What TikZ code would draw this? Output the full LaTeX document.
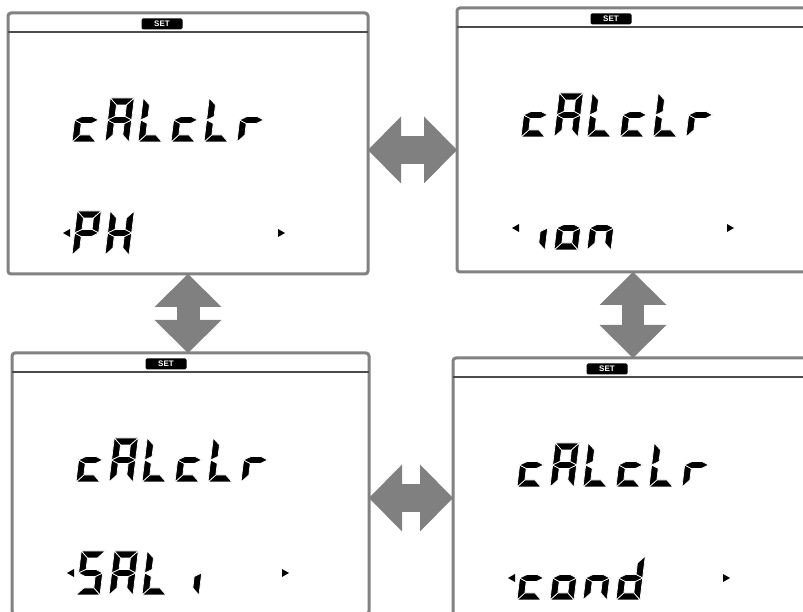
\documentclass[tikz,border=0pt]{standalone}
\usepackage{fontspec}
\newfontfamily\badgefont{Liberation Sans}
\usetikzlibrary{arrows.meta,positioning}

\definecolor{arrowgray}{RGB}{128,128,128}
\definecolor{framegray}{RGB}{130,130,130}

% seven-segment glyphs (segments a..g)
\newcommand{\glyphc}{d,e,g}
\newcommand{\glyphA}{a,b,c,e,f,g}
\newcommand{\glyphL}{d,e,f}
\newcommand{\glyphr}{e,g}
\newcommand{\glyphP}{a,b,e,f,g}
\newcommand{\glyphH}{b,c,e,f,g}
\newcommand{\glyphi}{c}
\newcommand{\glypho}{c,d,e,g}
\newcommand{\glyphn}{c,e,g}
\newcommand{\glyphS}{a,c,d,f,g}
\newcommand{\glyphd}{b,c,d,e,g}

\newcommand{\lcdseg}[1]{%
  \if a#1\path[lcdbar] (0,44) -- (24,44) -- (17,37) -- (7,37) -- cycle;\fi
  \if b#1\path[lcdbar] (24,44) -- (24,22) -- (17,25.5) -- (17,37) -- cycle;\fi
  \if c#1\path[lcdbar] (24,22) -- (24,0) -- (17,7) -- (17,18.5) -- cycle;\fi
  \if d#1\path[lcdbar] (0,0) -- (24,0) -- (17,7) -- (7,7) -- cycle;\fi
  \if e#1\path[lcdbar] (0,0) -- (0,22) -- (7,18.5) -- (7,7) -- cycle;\fi
  \if f#1\path[lcdbar] (0,22) -- (0,44) -- (7,37) -- (7,25.5) -- cycle;\fi
  \if g#1\path[lcdbar] (0,22) -- (7,25.5) -- (17,25.5) -- (24,22) -- (17,18.5) -- (7,18.5) -- cycle;\fi}

% one row of LCD characters inside a panel
\newcommand{\lcdrow}[4]{%
  \begin{scope}[shift={(#1.north west)}, shift={(#2,#3)}]
    \foreach \ch [count=\k from 0] in {#4} {
      \begin{scope}[shift={(33*\k,0)}, xslant=0.12]
        \edef\seglist{\csname glyph\ch\endcsname}
        \foreach \s in \seglist {\lcdseg{\s}}
      \end{scope}
    }
  \end{scope}}

% header line, SET badge and the two small scroll marks
\newcommand{\lcdframe}[1]{%
  \draw[hdrline] ([yshift=-19.5pt]#1.north west) -- ([yshift=-19.5pt]#1.north east);
  \node[setbadge] (set#1) at ([shift={(154,-11)}]#1.north west) {SET};
  \fill ([shift={(55,-220)}]#1.north west) -- ++(7,4) -- ++(0,-8) -- cycle;
  \fill ([shift={(277,-220)}]#1.north west) -- ++(-7,4) -- ++(0,-8) -- cycle;}

\begin{document}
\begin{tikzpicture}[
    x=1pt, y=1pt,
    >={Triangle[length=33pt, width=67pt, line width=0pt]},
    panel/.style={draw=framegray, line width=3pt, rounded corners=3pt, fill=white, inner sep=0pt, outer sep=0pt},
    hdrline/.style={draw=black!70, line width=2pt},
    setbadge/.style={fill=black, rounded corners=1.5pt, text=white, inner sep=0pt, minimum width=41pt, minimum height=11pt, font=\badgefont\bfseries\fontsize{8}{8}\selectfont},
    dblarrow/.style={<->, draw=arrowgray, line width=#1},
    lcdbar/.style={fill=black, draw=white, line width=0.7pt, line join=round},
]
\useasboundingbox (0,0) rectangle (803,612);
\fill[white] (0,0) rectangle (803,612);
\clip (0,0) rectangle (803,612);

% Panels
\node[panel, minimum width=360pt, minimum height=261pt] (p1) at (188,468.5) {};
\node[panel, minimum width=360pt, minimum height=264pt] (p2) at (637,472) {};
\node[panel, minimum width=357pt, minimum height=261pt] (p3) at (190.5,128.5) {};
\node[panel, minimum width=360pt, minimum height=261pt] (p4) at (633,123.5) {};

\lcdframe{p1}
\lcdframe{p2}
\lcdframe{p3}
\lcdframe{p4}

% Display texts
\lcdrow{p1}{64}{-129}{c,A,L,c,L,r}
\lcdrow{p1}{64}{-242}{P,H}
\lcdrow{p2}{64}{-129}{c,A,L,c,L,r}
\lcdrow{p2}{64}{-242}{i,o,n}
\lcdrow{p3}{64}{-129}{c,A,L,c,L,r}
\lcdrow{p3}{64}{-242}{S,A,L,i}
\lcdrow{p4}{64}{-129}{c,A,L,c,L,r}
\lcdrow{p4}{64}{-242}{c,o,n,d}

% Arrows
\draw[dblarrow=28pt] ([yshift=-6.5pt]p1.east) -- ([yshift=-6.5pt]p1.east -| p2.west);
\draw[dblarrow=28pt] ([yshift=-14.5pt]p3.east) -- ([yshift=-14.5pt]p3.east -| p4.west);
\draw[dblarrow=23pt] (p1.south) -- (p1.south |- p3.north);
\draw[dblarrow=22pt] (p2.south -| p4.north) -- (p4.north);

\end{tikzpicture}
\end{document}
